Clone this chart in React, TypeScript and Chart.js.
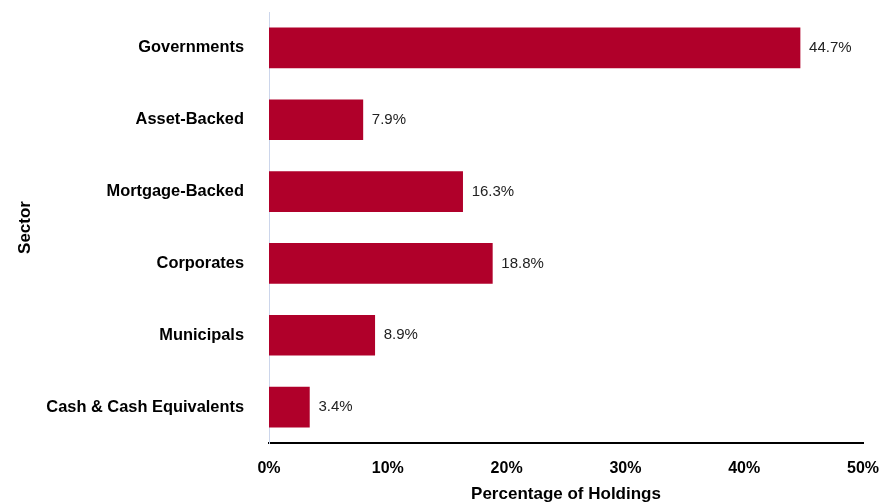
import React, { useEffect, useRef } from "react";
import { Chart, registerables } from "chart.js";

Chart.register(...registerables);

const categories = ["Governments", "Asset-Backed", "Mortgage-Backed", "Corporates", "Municipals", "Cash & Cash Equivalents"];
const values = [44.7, 7.9, 16.3, 18.8, 8.9, 3.4];
const xTicks = [0, 10, 20, 30, 40, 50];

const FONT = "'Liberation Sans', Arial, sans-serif";

const valueLabels = {
  id: "valueLabels",
  afterDatasetsDraw(chart: any) {
    const ctx = chart.ctx;
    const meta = chart.getDatasetMeta(0);
    ctx.save();
    ctx.font = `15px ${FONT}`;
    ctx.fillStyle = "#222222";
    ctx.textAlign = "left";
    ctx.textBaseline = "middle";
    meta.data.forEach((el: any, i: number) => {
      ctx.fillText(values[i].toFixed(1) + "%", el.x + 9, el.y);
    });
    ctx.restore();
  },
};

export default function App() {
  const ref = useRef<HTMLCanvasElement>(null);
  useEffect(() => {
    document.body.style.margin = "0";
    const chart = new Chart(ref.current!, {
      type: "bar",
      data: {
        labels: categories,
        datasets: [
          {
            data: values,
            backgroundColor: "#b0002a",
            borderWidth: 0,
            barThickness: 40,
          },
        ],
      },
      options: {
        indexAxis: "y",
        animation: false,
        responsive: false,
        maintainAspectRatio: false,
        layout: { padding: { top: 12, right: 28, left: 0, bottom: 0 } },
        plugins: { legend: { display: false }, tooltip: { enabled: false } },
        scales: {
          x: {
            min: 0,
            max: 50,
            afterBuildTicks: (scale: any) => {
              scale.ticks = xTicks.map((v) => ({ value: v }));
            },
            afterFit: (scale: any) => {
              scale.height = 60;
            },
            grid: { display: false, drawTicks: true, tickLength: 16 },
            border: { display: true, color: "#000000", width: 2 },
            ticks: {
              padding: 0,
              maxRotation: 0,
              font: { family: FONT, size: 16, weight: "bold" },
              color: "#000000",
              callback: (v: any) => v + "%",
            },
            title: {
              display: true,
              text: "Percentage of Holdings",
              font: { family: FONT, size: 17, weight: "bold" },
              color: "#000000",
              padding: { top: 0, bottom: -2 },
            },
          },
          y: {
            afterFit: (scale: any) => {
              scale.width = 269;
            },
            grid: { display: false, drawTicks: true, tickLength: 25 },
            border: { display: true, color: "#ccd6eb", width: 1 },
            ticks: {
              padding: 0,
              font: { family: FONT, size: 16.4, weight: "bold" },
              color: "#000000",
            },
            title: {
              display: true,
              text: "Sector",
              font: { family: FONT, size: 17, weight: "bold" },
              color: "#000000",
              padding: { top: 15, bottom: 0 },
            },
          },
        },
      },
      plugins: [valueLabels],
    });
    return () => chart.destroy();
  }, []);
  return (
    <div style={{ width: 891, height: 503 }}>
      <canvas ref={ref} width={891} height={503} style={{ width: 891, height: 503 }} />
    </div>
  );
}
